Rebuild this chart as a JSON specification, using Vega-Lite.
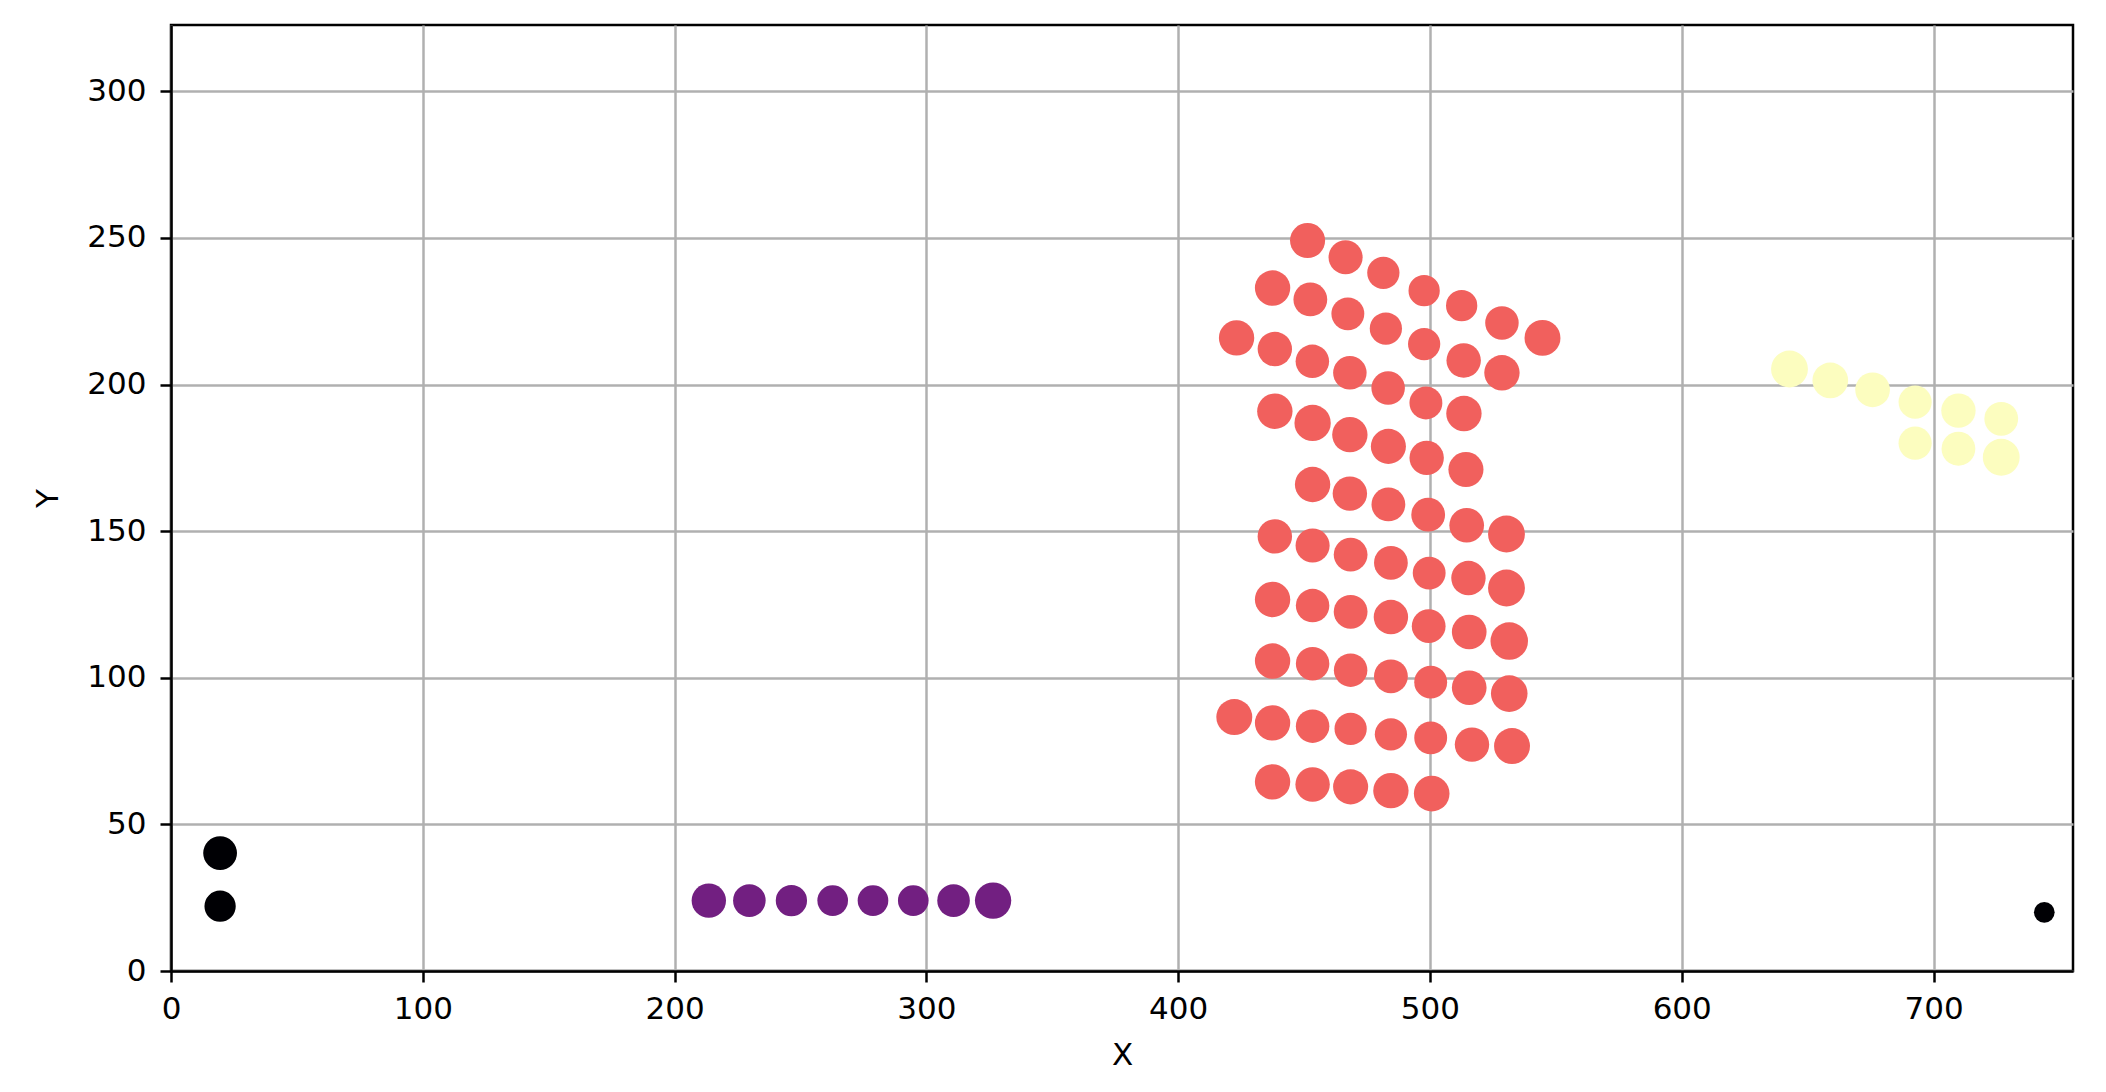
{
  "$schema": "https://vega.github.io/schema/vega-lite/v6.json",
  "autosize": {"type": "none"},
  "padding": {"left": 171, "top": 25, "right": 33, "bottom": 121},
  "width": 1902,
  "height": 946,
  "background": "white",
  "config": {
    "view": {"stroke": "#000000", "strokeWidth": 2.5},
    "axis": {
      "domainColor": "#000000", "domainWidth": 2.5,
      "grid": true, "gridColor": "#b0b0b0", "gridWidth": 2.5, "gridOpacity": 1,
      "tickColor": "#000000", "tickSize": 11, "tickWidth": 2.5,
      "labelFont": "DejaVu Sans", "labelFontSize": 31, "labelColor": "#000000",
      "titleFont": "DejaVu Sans", "titleFontSize": 31, "titleFontWeight": "normal", "titleColor": "#000000"
    }
  },
  "data": {"values": [
    {"x": 19.5, "y": 40.2, "c": -1, "s": 168},
    {"x": 19.5, "y": 22.1, "c": -1, "s": 144},
    {"x": 744.0, "y": 20.0, "c": -1, "s": 63},
    {"x": 213.6, "y": 24.0, "c": 0, "s": 174},
    {"x": 229.7, "y": 24.0, "c": 0, "s": 156},
    {"x": 246.4, "y": 24.0, "c": 0, "s": 144},
    {"x": 262.8, "y": 24.0, "c": 0, "s": 138},
    {"x": 278.8, "y": 24.0, "c": 0, "s": 138},
    {"x": 294.8, "y": 24.0, "c": 0, "s": 138},
    {"x": 310.8, "y": 24.0, "c": 0, "s": 156},
    {"x": 326.5, "y": 24.0, "c": 0, "s": 194},
    {"x": 451.4, "y": 249.1, "c": 1, "s": 181},
    {"x": 466.5, "y": 243.4, "c": 1, "s": 171},
    {"x": 481.5, "y": 238.1, "c": 1, "s": 153},
    {"x": 497.7, "y": 232.0, "c": 1, "s": 144},
    {"x": 512.6, "y": 226.9, "c": 1, "s": 144},
    {"x": 528.6, "y": 221.0, "c": 1, "s": 165},
    {"x": 544.7, "y": 215.9, "c": 1, "s": 190},
    {"x": 437.5, "y": 232.9, "c": 1, "s": 184},
    {"x": 452.5, "y": 229.0, "c": 1, "s": 168},
    {"x": 467.4, "y": 224.1, "c": 1, "s": 159},
    {"x": 482.5, "y": 219.1, "c": 1, "s": 153},
    {"x": 497.7, "y": 213.8, "c": 1, "s": 153},
    {"x": 513.4, "y": 208.2, "c": 1, "s": 174},
    {"x": 528.6, "y": 204.0, "c": 1, "s": 184},
    {"x": 423.2, "y": 215.9, "c": 1, "s": 184},
    {"x": 438.4, "y": 212.1, "c": 1, "s": 174},
    {"x": 453.3, "y": 207.9, "c": 1, "s": 165},
    {"x": 468.2, "y": 204.0, "c": 1, "s": 165},
    {"x": 483.4, "y": 198.8, "c": 1, "s": 165},
    {"x": 498.4, "y": 193.7, "c": 1, "s": 159},
    {"x": 513.5, "y": 190.1, "c": 1, "s": 184},
    {"x": 438.4, "y": 190.9, "c": 1, "s": 184},
    {"x": 453.4, "y": 186.9, "c": 1, "s": 194},
    {"x": 468.2, "y": 182.9, "c": 1, "s": 184},
    {"x": 483.5, "y": 178.9, "c": 1, "s": 181},
    {"x": 498.7, "y": 175.0, "c": 1, "s": 174},
    {"x": 514.3, "y": 171.0, "c": 1, "s": 181},
    {"x": 453.4, "y": 165.9, "c": 1, "s": 184},
    {"x": 468.2, "y": 162.8, "c": 1, "s": 174},
    {"x": 483.5, "y": 159.1, "c": 1, "s": 168},
    {"x": 499.3, "y": 155.6, "c": 1, "s": 168},
    {"x": 514.6, "y": 152.0, "c": 1, "s": 177},
    {"x": 530.4, "y": 149.0, "c": 1, "s": 200},
    {"x": 438.4, "y": 148.2, "c": 1, "s": 174},
    {"x": 453.4, "y": 145.1, "c": 1, "s": 171},
    {"x": 468.5, "y": 142.0, "c": 1, "s": 168},
    {"x": 484.5, "y": 139.2, "c": 1, "s": 168},
    {"x": 499.7, "y": 135.7, "c": 1, "s": 159},
    {"x": 515.3, "y": 134.0, "c": 1, "s": 174},
    {"x": 530.4, "y": 130.6, "c": 1, "s": 200},
    {"x": 437.5, "y": 126.7, "c": 1, "s": 184},
    {"x": 453.4, "y": 124.6, "c": 1, "s": 165},
    {"x": 468.5, "y": 122.5, "c": 1, "s": 168},
    {"x": 484.5, "y": 120.7, "c": 1, "s": 174},
    {"x": 499.5, "y": 117.6, "c": 1, "s": 168},
    {"x": 515.6, "y": 115.6, "c": 1, "s": 177},
    {"x": 531.5, "y": 112.5, "c": 1, "s": 207},
    {"x": 437.5, "y": 105.7, "c": 1, "s": 184},
    {"x": 453.4, "y": 104.8, "c": 1, "s": 165},
    {"x": 468.5, "y": 102.6, "c": 1, "s": 165},
    {"x": 484.5, "y": 100.5, "c": 1, "s": 168},
    {"x": 500.3, "y": 98.5, "c": 1, "s": 159},
    {"x": 515.6, "y": 96.6, "c": 1, "s": 177},
    {"x": 531.5, "y": 94.6, "c": 1, "s": 197},
    {"x": 422.3, "y": 86.6, "c": 1, "s": 190},
    {"x": 437.5, "y": 84.6, "c": 1, "s": 184},
    {"x": 453.4, "y": 83.5, "c": 1, "s": 165},
    {"x": 468.5, "y": 82.6, "c": 1, "s": 153},
    {"x": 484.5, "y": 80.7, "c": 1, "s": 153},
    {"x": 500.3, "y": 79.5, "c": 1, "s": 159},
    {"x": 516.7, "y": 77.2, "c": 1, "s": 174},
    {"x": 532.6, "y": 76.7, "c": 1, "s": 190},
    {"x": 437.5, "y": 64.5, "c": 1, "s": 184},
    {"x": 453.4, "y": 63.6, "c": 1, "s": 174},
    {"x": 468.5, "y": 62.8, "c": 1, "s": 181},
    {"x": 484.5, "y": 61.5, "c": 1, "s": 184},
    {"x": 500.7, "y": 60.5, "c": 1, "s": 187},
    {"x": 642.8, "y": 205.3, "c": 2, "s": 200},
    {"x": 659.0, "y": 201.4, "c": 2, "s": 187},
    {"x": 675.8, "y": 198.2, "c": 2, "s": 177},
    {"x": 692.7, "y": 194.0, "c": 2, "s": 162},
    {"x": 709.9, "y": 191.1, "c": 2, "s": 174},
    {"x": 726.9, "y": 188.3, "c": 2, "s": 168},
    {"x": 692.7, "y": 180.0, "c": 2, "s": 162},
    {"x": 709.9, "y": 178.1, "c": 2, "s": 168},
    {"x": 726.9, "y": 175.2, "c": 2, "s": 200}
  ]},
  "mark": {"type": "point", "shape": "circle", "filled": true, "opacity": 1, "strokeWidth": 0},
  "encoding": {
    "x": {
      "field": "x", "type": "quantitative", "title": "X",
      "scale": {"domain": [0, 755.4], "nice": false, "zero": false},
      "axis": {"values": [0, 100, 200, 300, 400, 500, 600, 700], "labelPadding": 12, "titlePadding": 16, "labelFlush": false}
    },
    "y": {
      "field": "y", "type": "quantitative", "title": "Y",
      "scale": {"domain": [0, 322.6], "nice": false, "zero": false},
      "axis": {"values": [0, 50, 100, 150, 200, 250, 300], "labelPadding": 14, "titlePadding": 22, "labelFlush": false}
    },
    "color": {
      "field": "c", "type": "nominal", "legend": null,
      "scale": {"domain": [-1, 0, 1, 2], "range": ["#000004", "#721f81", "#f1605d", "#fcfdbf"]}
    },
    "size": {
      "field": "s", "type": "quantitative", "legend": null,
      "scale": {"type": "linear", "domain": [0, 200], "range": [0, 1360], "zero": true}
    }
  }
}
